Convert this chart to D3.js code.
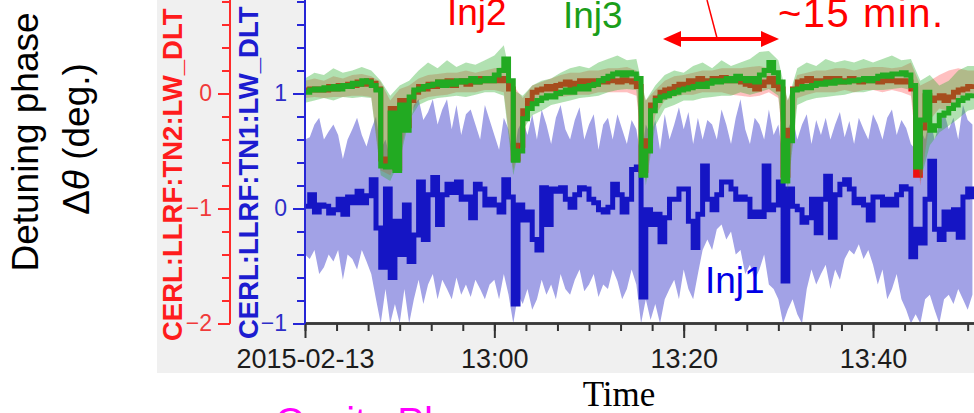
<!DOCTYPE html>
<html><head><meta charset="utf-8">
<script src="https://cdn.jsdelivr.net/npm/d3@7/dist/d3.min.js"></script>
<style>body{margin:0;background:#fff;}svg{display:block;}</style>
</head><body>
<svg id="c" width="974" height="413"></svg>
<script>
// ---------- data ----------
const sampleStepSec = 30;   // line samples
const bandStepSec = 60;     // red/green envelope samples
const startUTC = Date.UTC(2015, 1, 13, 12, 40, 0);
const endUTC = Date.UTC(2015, 1, 13, 13, 50, 40);

// Inj1 (TN1, blue axis, deg)
const inj1Line = [0.02,0.12,-0.03,0.03,0.02,-0.04,-0.01,0.08,-0.05,0.10,
 0.05,0.15,0.05,0.11,0.25,-0.17,-0.51,0.17,-0.60,-0.11,
 -0.40,0.03,-0.46,-0.23,0.23,-0.27,0.12,0.27,-0.14,0.12,
 0.21,0.14,0.23,0.08,0.10,-0.08,0.21,0.17,0.03,0.08,
 0.03,-0.03,0.25,0.10,-0.83,0.03,-0.10,-0.03,-0.27,-0.36,
 0.18,-0.14,0.17,0.15,0.18,0.08,0.01,0.12,0.18,0.17,
 0.08,0.05,-0.01,-0.03,0.01,0.21,0.12,-0.03,0.08,0.34,
 0.36,-0.77,-0.01,-0.14,-0.05,-0.29,-0.08,0.08,0.08,0.17,
 0.17,-0.11,-0.34,-0.05,0.37,0.08,-0.01,0.12,0.23,0.23,
 0.17,0.08,0.10,0.08,-0.07,-0.03,-0.07,0.37,-0.01,0.03,
 0.23,-0.63,0.17,0.02,-0.01,-0.12,-0.08,0.08,-0.21,0.08,
 0.28,-0.25,0.12,0.21,0.25,0.17,0.05,0.08,0.03,-0.10,
 0.10,0.10,0.03,0.08,0.03,0.12,0.19,0.17,-0.42,-0.18,
 -0.30,0.08,0.41,-0.18,-0.27,-0.03,-0.18,-0.01,-0.25,0.10,
 0.17,0.08];
const inj1Hi = [0.60,0.62,0.73,0.79,0.60,0.67,0.73,0.64,0.43,0.60,
 0.69,0.79,0.64,0.54,0.69,0.80,0.51,0.60,0.43,0.69,
 0.51,0.86,0.69,0.90,0.95,0.77,0.84,0.95,0.73,0.86,
 0.95,0.69,0.90,0.64,0.82,0.86,0.73,0.60,0.90,0.77,
 0.64,0.51,0.79,0.69,0.43,0.69,0.77,0.64,0.82,0.60,
 0.86,0.73,0.56,0.79,0.90,0.69,0.60,0.77,0.88,0.60,
 0.73,0.82,0.51,0.73,0.79,0.60,0.82,0.69,0.56,0.77,
 0.69,0.43,0.73,0.64,0.77,0.51,0.82,0.60,0.73,0.88,
 0.69,0.84,0.56,0.79,0.60,0.77,0.73,0.60,0.86,0.73,
 0.56,0.79,0.95,0.69,0.56,0.79,0.73,0.60,0.86,0.64,
 0.73,0.43,0.69,0.79,0.60,0.73,0.82,0.56,0.77,0.64,
 0.79,0.60,0.73,0.84,0.62,0.76,0.56,0.79,0.69,0.60,
 0.82,0.73,0.60,0.79,0.86,0.64,0.77,0.70,0.56,0.51,
 0.69,0.60,0.79,0.60,0.73,0.84,0.69,0.79,0.60,0.90,
 0.77,0.73];
const inj1Lo = [-0.40,-0.44,-0.36,-0.57,-0.51,-0.40,-0.46,-0.36,-0.62,-0.40,
 -0.44,-0.53,-0.36,-0.46,-0.57,-0.79,-1.00,-0.70,-1.00,-0.83,
 -1.00,-0.70,-1.00,-0.79,-0.62,-0.83,-0.66,-0.57,-0.79,-0.62,
 -0.70,-0.79,-0.60,-0.75,-0.66,-0.77,-0.62,-0.70,-0.79,-0.66,
 -0.62,-0.79,-0.57,-0.75,-1.00,-0.75,-0.83,-0.70,-0.88,-0.79,
 -0.62,-0.75,-0.66,-0.79,-0.57,-0.70,-0.75,-0.62,-0.53,-0.72,
 -0.66,-0.57,-0.77,-0.66,-0.70,-0.53,-0.63,-0.79,-0.70,-0.53,
 -0.66,-1.00,-0.79,-0.97,-0.83,-1.00,-0.79,-0.70,-0.62,-0.79,
 -0.53,-0.70,-0.79,-0.57,-0.36,-0.27,-0.36,-0.18,-0.14,-0.27,
 -0.20,-0.40,-0.36,-0.57,-0.49,-0.62,-0.53,-0.40,-0.66,-0.70,
 -0.79,-1.00,-0.88,-0.79,-0.92,-1.00,-0.70,-0.53,-0.66,-0.57,
 -0.49,-0.70,-0.53,-0.62,-0.44,-0.36,-0.40,-0.31,-0.44,-0.36,
 -0.49,-0.66,-0.53,-0.79,-0.70,-0.57,-0.79,-0.88,-1.00,-0.92,
 -1.00,-0.79,-0.75,-0.88,-1.00,-0.79,-0.75,-0.83,-0.70,-0.79,
 -0.88,-0.75];

// Inj2 (TN2, red axis, deg)
const inj2Line = [0.03,0.04,0.03,0.04,0.03,0.06,0.04,0.07,0.06,0.08,
 0.07,0.10,0.08,0.11,0.09,0.04,-0.57,-0.63,-0.13,-0.65,
 -0.06,-0.28,-0.06,0.01,0.06,0.04,0.08,0.06,0.10,0.08,
 0.11,0.07,0.10,0.11,0.08,0.11,0.10,0.13,0.11,0.13,
 0.11,0.13,0.11,0.04,-0.57,-0.45,-0.15,-0.06,0.01,0.03,
 0.04,0.06,0.04,0.07,0.08,0.10,0.07,0.09,0.11,0.10,
 0.11,0.08,0.11,0.10,0.13,0.11,0.10,0.12,0.11,0.10,
 0.06,-0.67,-0.41,-0.10,-0.04,0.01,0.03,0.04,0.06,0.08,
 0.07,0.11,0.10,0.13,0.10,0.11,0.13,0.11,0.14,0.11,
 0.13,0.11,0.10,0.08,0.07,0.04,0.07,0.10,0.13,0.07,
 0.04,-0.71,-0.32,0.04,0.10,0.11,0.13,0.11,0.10,0.11,
 0.13,0.11,0.13,0.10,0.11,0.13,0.11,0.10,0.11,0.13,
 0.11,0.10,0.11,0.13,0.11,0.10,0.11,0.10,0.04,-0.71,
 -0.30,-0.02,-0.06,-0.04,-0.02,-0.06,-0.03,0.01,0.03,0.04,
 0.06,0.08];
const inj2Hi = [0.11,0.13,0.11,0.15,0.13,0.16,0.17,0.15,0.10,-0.06,
 0.04,0.07,0.13,0.16,0.17,0.18,0.18,0.20,0.18,0.20,
 0.22,0.23,0.07,-0.04,0.07,0.10,0.13,0.16,0.18,0.18,
 0.20,0.20,0.22,0.22,0.23,0.20,-0.06,0.03,0.11,0.15,
 0.16,0.18,0.20,0.20,0.22,0.22,0.22,0.23,0.24,0.22,
 0.20,-0.06,0.16,0.18,0.20,0.20,0.22,0.22,0.20,0.22,
 0.23,0.23,0.22,0.23,0.27,0.07,0.11,0.16,0.20,0.22,
 0.20,0.20];
const inj2Lo = [-0.04,-0.03,-0.04,-0.03,-0.03,-0.02,-0.02,-0.03,-0.67,-0.71,
 -0.54,-0.19,-0.06,-0.03,-0.02,-0.01,0.01,0.01,0.01,0.03,
 0.03,0.01,-0.67,-0.28,-0.10,-0.06,-0.04,-0.03,-0.02,-0.01,
 -0.01,0.01,0.01,0.01,0.01,-0.02,-0.76,-0.19,-0.06,-0.03,
 -0.01,-0.01,0.01,0.01,0.01,-0.01,-0.02,-0.03,-0.02,0.01,
 -0.04,-0.80,-0.04,-0.01,0.01,0.01,0.01,0.03,0.01,0.03,
 0.03,0.01,0.03,0.01,-0.02,-0.80,-0.23,-0.13,-0.15,-0.10,
 -0.04,-0.04];

// Inj3 (plotted against the red-axis scale, deg)
const inj3Line = [0.01,0.03,0.04,0.03,0.05,0.04,0.06,0.04,0.07,0.06,
 0.09,0.08,0.11,0.10,0.07,0.03,-0.63,-0.64,-0.17,-0.67,
 -0.10,-0.32,-0.03,0.03,0.04,0.06,0.07,0.08,0.10,0.07,
 0.10,0.08,0.11,0.10,0.11,0.13,0.10,0.11,0.13,0.11,
 0.16,0.20,0.30,0.11,-0.58,-0.50,-0.22,-0.13,-0.09,-0.06,
 -0.04,-0.02,-0.03,0.00,0.01,0.03,0.01,0.04,0.06,0.04,
 0.07,0.08,0.11,0.13,0.15,0.17,0.18,0.16,0.18,0.17,
 0.13,-0.71,-0.50,-0.15,-0.06,-0.03,-0.02,0.00,0.01,0.03,
 0.04,0.05,0.06,0.08,0.06,0.09,0.11,0.10,0.11,0.13,
 0.11,0.15,0.13,0.11,0.13,0.10,0.16,0.20,0.27,0.18,
 0.10,-0.76,-0.41,0.03,0.04,0.06,0.05,0.07,0.09,0.08,
 0.10,0.09,0.11,0.10,0.10,0.11,0.11,0.12,0.13,0.11,
 0.13,0.15,0.16,0.15,0.17,0.17,0.18,0.16,0.07,-0.64,
 -0.23,0.01,-0.32,-0.28,-0.19,-0.17,-0.13,-0.10,-0.06,-0.04,
 -0.02,0.00];
const inj3Hi = [0.13,0.18,0.16,0.22,0.18,0.20,0.23,0.20,0.11,-0.02,
 0.07,0.11,0.20,0.27,0.22,0.29,0.23,0.27,0.25,0.29,
 0.33,0.42,0.03,-0.02,0.07,0.11,0.13,0.18,0.22,0.24,
 0.22,0.27,0.30,0.33,0.29,0.30,-0.06,0.07,0.16,0.20,
 0.18,0.24,0.27,0.22,0.29,0.24,0.27,0.30,0.36,0.37,
 0.29,-0.06,0.22,0.27,0.24,0.30,0.27,0.29,0.27,0.30,
 0.27,0.30,0.33,0.29,0.30,0.11,0.16,0.07,0.11,0.20,
 0.24,0.24];
const inj3Lo = [-0.08,-0.06,-0.04,-0.06,-0.03,-0.04,-0.03,-0.04,-0.71,-0.76,
 -0.58,-0.23,-0.10,-0.06,-0.04,-0.03,-0.02,-0.03,-0.01,0.01,
 0.01,-0.02,-0.71,-0.32,-0.19,-0.15,-0.10,-0.08,-0.06,-0.04,
 -0.03,-0.02,0.01,0.03,0.04,0.03,-0.80,-0.28,-0.13,-0.10,
 -0.06,-0.06,-0.04,-0.03,-0.02,-0.02,0.01,-0.01,0.01,0.04,
 -0.02,-0.84,-0.10,-0.06,-0.04,-0.03,-0.02,-0.01,0.01,0.01,
 0.03,0.03,0.04,0.05,0.03,-0.76,-0.45,-0.34,-0.28,-0.22,
 -0.15,-0.13];

// ticks
const xMajorTickTimes = ["12:40", "13:00", "13:20", "13:40"];
const xMajorTickLabels = ["2015-02-13", "13:00", "13:20", "13:40"];
const xMinorTickSec = 200;
const blueTicks = [-1, 0, 1];
const redTicks = [-2, -1, 0];
const blueAxisTitle = "CERL:LLRF:TN1:LW_DLT";
const redAxisTitle = "CERL:LLRF:TN2:LW_DLT";

// ---------- drawing ----------
const svg = d3.select("#c");
const L = 305, R = 974, B = 323;
const t2d = s => new Date(startUTC + s * 1000);
const hm = s => { const [h, m] = s.split(":").map(Number); return new Date(Date.UTC(2015, 1, 13, h, m, 0)); };

const x = d3.scaleUtc().domain([new Date(startUTC), new Date(endUTC)]).range([L, R]);
const yB = d3.scaleLinear().domain([-1, 1]).range([323.5, 93.5]);
const yR = d3.scaleLinear().domain([-2, 0]).range([323.5, 93.5]);

svg.append("rect").attr("x", 157).attr("y", 0).attr("width", R - 157).attr("height", 373).attr("fill", "#f0f0f0");
svg.append("rect").attr("x", L).attr("y", 0).attr("width", R - L).attr("height", B).attr("fill", "#ffffff");

const defs = svg.append("defs");
defs.append("clipPath").attr("id", "clip")
  .append("rect").attr("x", L + 1).attr("y", 0).attr("width", R - L).attr("height", B - 1);
defs.append("filter").attr("id", "soft").append("feGaussianBlur").attr("stdDeviation", 0.7);
const g = svg.append("g").attr("clip-path", "url(#clip)");

const lineX = (d, i) => x(t2d(i * sampleStepSec));
const bandX = (d, i) => x(t2d(i * bandStepSec));

function band(hi, lo, y, xf, fill, op) {
  g.append("path").datum(hi)
    .attr("d", d3.area().x(xf).y0((d, i) => y(lo[i])).y1(d => y(d)))
    .attr("fill", fill).attr("fill-opacity", op).attr("filter", "url(#soft)");
}
function line(vals, y, col, w) {
  g.append("path").datum(vals)
    .attr("d", d3.line().x(lineX).y(d => y(d)).curve(d3.curveStepAfter))
    .attr("fill", "none").attr("stroke", col).attr("stroke-width", w)
    .attr("stroke-linejoin", "miter");
}
band(inj1Hi, inj1Lo, yB, lineX, "#a2a2e6", 1);
line(inj1Line, yB, "#1515c4", 5);
band(inj2Hi, inj2Lo, yR, bandX, "#ff3030", 0.3);
line(inj2Line, yR, "#ee1111", 5);
band(inj3Hi, inj3Lo, yR, bandX, "#30b030", 0.38);
line(inj3Line, yR, "#22aa22", 5);

// x axis
const xAxisG = svg.append("g").attr("transform", `translate(0,${B})`);
xAxisG.call(d3.axisBottom(x).tickValues(d3.range(0, 4201, xMinorTickSec).map(t2d)).tickSize(8).tickSizeOuter(0).tickFormat(""));
const xMajor = svg.append("g").attr("transform", `translate(0,${B})`);
xMajor.call(d3.axisBottom(x).tickValues(xMajorTickTimes.map(hm)).tickSize(15).tickSizeOuter(0)
  .tickFormat((d, i) => xMajorTickLabels[i]));
[xAxisG, xMajor].forEach(a => {
  a.selectAll("line").attr("stroke", "#333").attr("stroke-width", 2);
  a.select(".domain").attr("stroke", "#3a3a3a").attr("stroke-width", 2.5);
});
xMajor.selectAll("text").attr("y", 0).attr("dy", 0).attr("transform", "translate(0,45)")
  .attr("fill", "#1c1c1c").style("font-family", "Liberation Sans, Arial, sans-serif").style("font-size", "27px");

// y axes
function yAxis(xPos, scale, ticks, col, labCol) {
  const minor = d3.range(scale.domain()[0] * 5, scale.domain()[0] * 5 + 15).map(k => k / 5);
  const a1 = svg.append("g").attr("transform", `translate(${xPos},0)`)
    .call(d3.axisLeft(scale).tickValues(minor).tickSize(8).tickSizeOuter(0).tickFormat(""));
  const a2 = svg.append("g").attr("transform", `translate(${xPos},0)`)
    .call(d3.axisLeft(scale).tickValues(ticks).tickSize(12).tickSizeOuter(0).tickFormat(d3.format("d")));
  [a1, a2].forEach(a => {
    a.selectAll("line").attr("stroke", col).attr("stroke-width", 2);
    a.select(".domain").attr("stroke", col).attr("stroke-width", 2).attr("d", `M0,0V${B + 0.5}`);
  });
  a2.selectAll("text").attr("fill", labCol).attr("x", -18)
    .style("font-family", "Liberation Sans, Arial, sans-serif").style("font-size", "23px");
}
yAxis(L, yB, blueTicks, "#2626d6", "#2d2dc8");
yAxis(230, yR, redTicks, "#ff2a2a", "#f03a3a");

// axis titles
const sans = "Liberation Sans, Arial, sans-serif";
svg.append("text").attr("transform", "translate(182,341) rotate(-90)")
  .attr("fill", "#ff1c1c").style("font-family", sans)
  .style("font-weight", "bold").style("font-size", "27.5px").text(redAxisTitle);
svg.append("text").attr("transform", "translate(258,339) rotate(-90)")
  .attr("fill", "#1c1cd0").style("font-family", sans)
  .style("font-weight", "bold").style("font-size", "27.5px").text(blueAxisTitle);

svg.append("text").attr("transform", "translate(38,142) rotate(-90)").attr("text-anchor", "middle")
  .style("font-family", sans).style("font-size", "37px").attr("fill", "#000").text("Detuning phase");
const dt = svg.append("text").attr("transform", "translate(89,139) rotate(-90)").attr("text-anchor", "middle")
  .style("font-family", sans).style("font-size", "37px").attr("fill", "#000");
dt.append("tspan").text("Δ");
dt.append("tspan").style("font-style", "italic").text("θ");
dt.append("tspan").text(" (deg.)");

svg.append("text").attr("x", 619).attr("y", 406).attr("text-anchor", "middle")
  .style("font-family", "Liberation Serif, Times New Roman, serif").style("font-size", "35px").attr("fill", "#000").text("Time");
svg.append("text").attr("x", 275).attr("y", 436)
  .style("font-family", sans).style("font-size", "40px").attr("fill", "#ff00ff").text("Cavity Phase");

// annotations
const ann = (txt, xx, yy, col, size, len) => {
  const t = svg.append("text").attr("x", xx).attr("y", yy).style("font-family", sans)
    .style("font-size", size + "px").attr("fill", col).text(txt);
  if (len) t.attr("textLength", len).attr("lengthAdjust", "spacing");
};
ann("Inj2", 447, 25, "#ff0000", 37);
ann("Inj3", 563, 28, "#1a9e1a", 37);
ann("Inj1", 705, 293, "#0000e6", 37);
ann("~15 min.", 778, 27, "#ff0000", 40, 165);

// arrow
svg.append("line").attr("x1", 676).attr("x2", 766).attr("y1", 39).attr("y2", 39)
  .attr("stroke", "#ff0000").attr("stroke-width", 4);
svg.append("path").attr("d", "M663,39L681,31L681,47Z M779,39L761,31L761,47Z").attr("fill", "#ff0000");
svg.append("line").attr("x1", 707).attr("y1", 0).attr("x2", 717).attr("y2", 38)
  .attr("stroke", "#ff0000").attr("stroke-width", 1.5);
</script>
</body></html>
